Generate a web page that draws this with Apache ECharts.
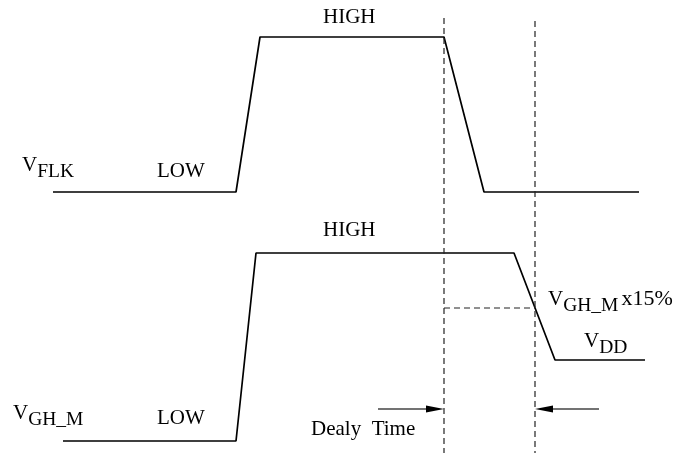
<!DOCTYPE html>
<html><head><meta charset="utf-8">
<script src="https://cdn.jsdelivr.net/npm/echarts@6/dist/echarts.min.js"></script>
<style>html,body{margin:0;padding:0;background:#fff}#c{width:675px;height:458px}</style>
</head><body><div id="c"></div>
<script>
// Diagram units: time on x (0..675), level on y (0..458, up)
const flkTime  = [53, 236, 260, 444, 484, 639];
const flkLevel = [266, 266, 421, 421, 266, 266];
const ghTime   = [63, 236, 256, 514, 555, 645];
const ghLevel  = [17, 17, 205, 205, 98, 98];
const markerTime   = [444, 535];
const markerTop    = [440, 437];
const markerBottom = [5, 5];
const thresholdLevel = 150;
const arrowStart = [378, 599];
const arrowEnd   = [444, 535];
const arrowLevel = 49;
const labelMain = ['HIGH', 'LOW', 'V', 'HIGH', 'LOW', 'V', 'Dealy  Time', 'V', 'V'];
const labelSub  = ['', '', 'FLK', '', '', 'GH_M', '', 'GH_M', 'DD'];
const labelTail = ['', '', '', '', '', '', '', 'x15%', ''];
const labelTime = [323, 157, 22, 323, 157, 13, 311, 548, 584];
const labelBase = [433, 279, 285, 220, 32, 37, 21, 151, 109];

const FONT = '"Liberation Serif", "Times New Roman", serif';
const MAIN = 21, SUB = 19.5, TAIL = 22, SUBDROP = 5.5;
const ctx = document.createElement('canvas').getContext('2d');
function tw(s, size) { ctx.font = size + 'px ' + FONT; return ctx.measureText(s).width; }
function mid(size) { return size * 0.3375; }

const chart = echarts.init(document.getElementById('c'), null, {renderer: 'canvas'});
const pairs = (xs, ys) => xs.map((x, i) => [x, ys[i]]);
const dashStyle = {color: '#222', width: 1.2, type: [6, 4]};

const series = [
  {type: 'line', data: pairs(flkTime, flkLevel), symbol: 'none', lineStyle: {color: '#000', width: 1.7}},
  {type: 'line', data: pairs(ghTime, ghLevel), symbol: 'none', lineStyle: {color: '#000', width: 1.7}}
];
markerTime.forEach((t, i) => {
  series.push({type: 'line', data: [[t, markerTop[i]], [t, markerBottom[i]]], symbol: 'none', lineStyle: dashStyle});
});
series.push({type: 'line', data: [[markerTime[0], thresholdLevel], [markerTime[1], thresholdLevel]], symbol: 'none', lineStyle: dashStyle});

series.push({
  type: 'custom',
  data: arrowStart.map((s, i) => [s, arrowEnd[i], arrowLevel]),
  renderItem: function (params, api) {
    const p0 = api.coord([api.value(0), api.value(2)]);
    const p1 = api.coord([api.value(1), api.value(2)]);
    const dir = p1[0] > p0[0] ? 1 : -1;
    const L = 18, H = 3.6;
    return {type: 'group', children: [
      {type: 'line', shape: {x1: p0[0], y1: p0[1], x2: p1[0] - dir * L * 0.6, y2: p1[1]}, style: {stroke: '#444', lineWidth: 1.3}},
      {type: 'polygon', shape: {points: [[p1[0], p1[1]], [p1[0] - dir * L, p1[1] - H], [p1[0] - dir * L, p1[1] + H]]}, style: {fill: '#000'}}
    ]};
  }
});

series.push({
  type: 'custom',
  data: labelTime.map((t, i) => [t, labelBase[i]]),
  renderItem: function (params, api) {
    const i = params.dataIndex;
    const p = api.coord([api.value(0), api.value(1)]);
    const kids = [];
    let x = p[0];
    kids.push({type: 'text', style: {text: labelMain[i], x: x, y: p[1] - mid(MAIN), font: MAIN + 'px ' + FONT, fill: '#000', align: 'left', verticalAlign: 'middle'}});
    x += tw(labelMain[i], MAIN);
    if (labelSub[i]) {
      kids.push({type: 'text', style: {text: labelSub[i], x: x, y: p[1] + SUBDROP - mid(SUB), font: SUB + 'px ' + FONT, fill: '#000', align: 'left', verticalAlign: 'middle'}});
      x += tw(labelSub[i], SUB);
    }
    if (labelTail[i]) {
      kids.push({type: 'text', style: {text: labelTail[i], x: x + 3, y: p[1] - mid(TAIL), font: TAIL + 'px ' + FONT, fill: '#000', align: 'left', verticalAlign: 'middle'}});
    }
    return {type: 'group', children: kids};
  }
});

chart.setOption({
  animation: false,
  backgroundColor: '#fff',
  grid: {left: 0, right: 0, top: 0, bottom: 0},
  xAxis: {type: 'value', min: 0, max: 675, show: false},
  yAxis: {type: 'value', min: 0, max: 458, show: false},
  series: series
});
</script></body></html>
